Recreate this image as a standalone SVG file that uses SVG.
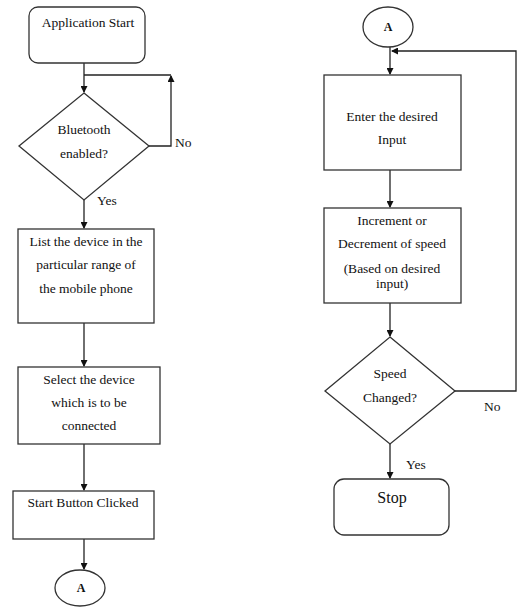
<svg xmlns="http://www.w3.org/2000/svg" width="517" height="607" viewBox="0 0 517 607">
<style>
.s{fill:#fff;stroke:#333;stroke-width:1.3}
.c{fill:none;stroke:#222;stroke-width:1.3}
text{font-family:"Liberation Serif","Times New Roman",serif;font-size:13.5px;fill:#111}
.m{text-anchor:middle}
</style>
<defs>
<marker id="ah" markerWidth="7" markerHeight="7" refX="6" refY="3.5" orient="auto" markerUnits="userSpaceOnUse">
<path d="M0,0 L7,3.5 L0,7 Z" fill="#111"/>
</marker>
</defs>
<rect width="517" height="607" fill="#fff"/>
<g id="connectors">
<path class="c" d="M84,63 V92" marker-end="url(#ah)"/>
<path class="c" d="M149,146 H171 V76" marker-end="url(#ah)"/>
<path class="c" d="M171,75 H84"/>
<path class="c" d="M84,200 V228" marker-end="url(#ah)"/>
<path class="c" d="M84,323 V366" marker-end="url(#ah)"/>
<path class="c" d="M84,444 V490" marker-end="url(#ah)"/>
<path class="c" d="M84,539 V569" marker-end="url(#ah)"/>
<path class="c" d="M390,47 V74" marker-end="url(#ah)"/>
<path class="c" d="M390,170 V207" marker-end="url(#ah)"/>
<path class="c" d="M390,303 V336" marker-end="url(#ah)"/>
<path class="c" d="M455,391 H516 V51 H392" marker-end="url(#ah)"/>
<path class="c" d="M390,444 V478" marker-end="url(#ah)"/>
</g>
<g id="start">
<rect class="s" x="29" y="7" width="116" height="56" rx="9"/>
<text class="m" x="88" y="27">Application Start</text>
</g>
<g id="bluetooth">
<path class="s" d="M84,93 L149,146 L84,200 L19,146 Z"/>
<text class="m" x="84" y="134">Bluetooth</text>
<text class="m" x="84" y="158">enabled?</text>
</g>
<text x="175" y="147">No</text>
<text x="97" y="205">Yes</text>
<g id="list">
<rect class="s" x="18" y="229" width="136" height="94"/>
<text class="m" x="86" y="246">List the device in the</text>
<text class="m" x="86" y="269">particular range of</text>
<text class="m" x="86" y="293">the mobile phone</text>
</g>
<g id="select">
<rect class="s" x="18" y="367" width="142" height="77"/>
<text class="m" x="89" y="384">Select the device</text>
<text class="m" x="89" y="407">which is to be</text>
<text class="m" x="89" y="430">connected</text>
</g>
<g id="startbtn">
<rect class="s" x="13" y="491" width="141" height="48"/>
<text class="m" x="83" y="507">Start Button Clicked</text>
</g>
<g id="a1">
<ellipse class="s" cx="80" cy="588" rx="25" ry="18"/>
<text class="m" x="81" y="592" style="font-size:12px;font-weight:bold">A</text>
</g>
<g id="a2">
<ellipse class="s" cx="388" cy="27" rx="25" ry="20"/>
<text class="m" x="388" y="31" style="font-size:12px;font-weight:bold">A</text>
</g>
<g id="enter">
<rect class="s" x="324" y="75" width="137" height="95"/>
<text class="m" x="392" y="121">Enter the desired</text>
<text class="m" x="392" y="144">Input</text>
</g>
<g id="incdec">
<rect class="s" x="324" y="208" width="137" height="95"/>
<text class="m" x="392" y="225">Increment or</text>
<text class="m" x="392" y="248">Decrement of speed</text>
<text class="m" x="392" y="273">(Based on desired</text>
<text class="m" x="392" y="288">input)</text>
</g>
<g id="speed">
<path class="s" d="M390,337 L455,391 L390,444 L325,391 Z"/>
<text class="m" x="390" y="378">Speed</text>
<text class="m" x="390" y="402">Changed?</text>
</g>
<text x="484" y="411">No</text>
<text x="406" y="469">Yes</text>
<g id="stop">
<rect class="s" x="334" y="479" width="115" height="56" rx="10"/>
<text class="m" x="392" y="503" style="font-size:16px">Stop</text>
</g>
</svg>
